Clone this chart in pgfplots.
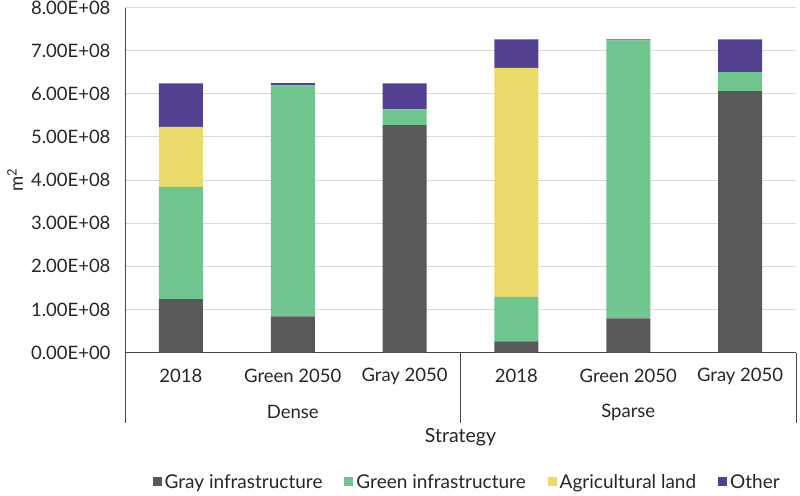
\documentclass[border=0pt]{standalone}
\usepackage{pgfplots}
\pgfplotsset{compat=1.18}
\usepackage{fontspec}
\setmainfont{Lato}
\definecolor{cgray}{RGB}{89,89,89}
\definecolor{cgreen}{RGB}{111,198,143}
\definecolor{cyellow}{RGB}{235,217,106}
\definecolor{cpurple}{RGB}{84,64,145}
\definecolor{gridc}{RGB}{217,217,217}
\definecolor{axc}{RGB}{70,70,70}
\pgfplotsset{sqlegend/.style={legend image code/.code={\fill[##1] (0pt,-4.5pt) rectangle (9pt,4.5pt);}}}
\begin{document}
\begin{tikzpicture}[font=\fontsize{18.5}{22}\selectfont]
\useasboundingbox (0,0) rectangle (800pt,-495pt);
\begin{axis}[
  at={(125pt,-352.5pt)}, anchor=south west,
  scale only axis, width=671pt, height=345pt,
  ybar stacked, bar width=44pt,
  xmin=-0.5, xmax=5.5, ymin=0, ymax=8e8,
  clip=false,
  axis x line=bottom, axis y line=left,
  axis line style={-, draw=axc, line width=0.8pt},
  xtick={0,1,2,3,4,5},
  xticklabels={2018, Green 2050, Gray 2050, 2018, Green 2050, Gray 2050},
  ytick={0,1e8,2e8,3e8,4e8,5e8,6e8,7e8,8e8},
  yticklabels={0.00E+00,1.00E+08,2.00E+08,3.00E+08,4.00E+08,5.00E+08,6.00E+08,7.00E+08,8.00E+08},
  major tick length=0pt,
  ymajorgrids, grid style={draw=gridc, line width=0.8pt},
  xticklabel style={anchor=center, yshift=-23.5pt, text=black!85},
  yticklabel style={anchor=east, xshift=-11pt, text=black!85},
  scaled y ticks=false,
  ylabel={m\textsuperscript{2}},
  ylabel style={at={(axis description cs:-0.164,0.5)}, anchor=center, text=black!85},
  xlabel={Strategy},
  xlabel style={at={(axis description cs:0.5,-0.245)}, anchor=center, font=\fontsize{19.5}{23}\selectfont, text=black!85},
  legend columns=4,
  legend style={draw=none, fill=none, at={(axis description cs:0.51,-0.375)}, anchor=center,
    /tikz/every even column/.append style={column sep=20pt},
    /tikz/every odd column/.append style={column sep=1pt},
    font=\fontsize{19}{22}\selectfont, text=black!85},
]
\addplot[fill=cgray, draw=none, sqlegend] coordinates {(0,1.24e8) (1,0.835e8) (2,5.27e8) (3,0.26e8) (4,0.79e8) (5,6.06e8)};
\addplot[fill=cgreen, draw=none, sqlegend] coordinates {(0,2.60e8) (1,5.36e8) (2,0.37e8) (3,1.03e8) (4,6.45e8) (5,0.44e8)};
\addplot[fill=cyellow, draw=none, sqlegend] coordinates {(0,1.39e8) (1,0) (2,0) (3,5.31e8) (4,0) (5,0)};
\addplot[fill=cpurple, draw=none, sqlegend] coordinates {(0,1.01e8) (1,0.05e8) (2,0.60e8) (3,0.66e8) (4,0.02e8) (5,0.76e8)};
\legend{Gray infrastructure, Green infrastructure, Agricultural land, Other}
\draw[axc, line width=0.8pt] (axis cs:-0.5,0) -- ([yshift=-70.5pt]axis cs:-0.5,0);
\draw[axc, line width=0.8pt] (axis cs:2.5,0) -- ([yshift=-70.5pt]axis cs:2.5,0);
\draw[axc, line width=0.8pt] (axis cs:5.5,0) -- ([yshift=-70.5pt]axis cs:5.5,0);
\node[text=black!85] at ([yshift=-59.5pt]axis cs:1,0) {Dense};
\node[text=black!85] at ([yshift=-59.5pt]axis cs:4,0) {Sparse};
\end{axis}
\end{tikzpicture}
\end{document}
